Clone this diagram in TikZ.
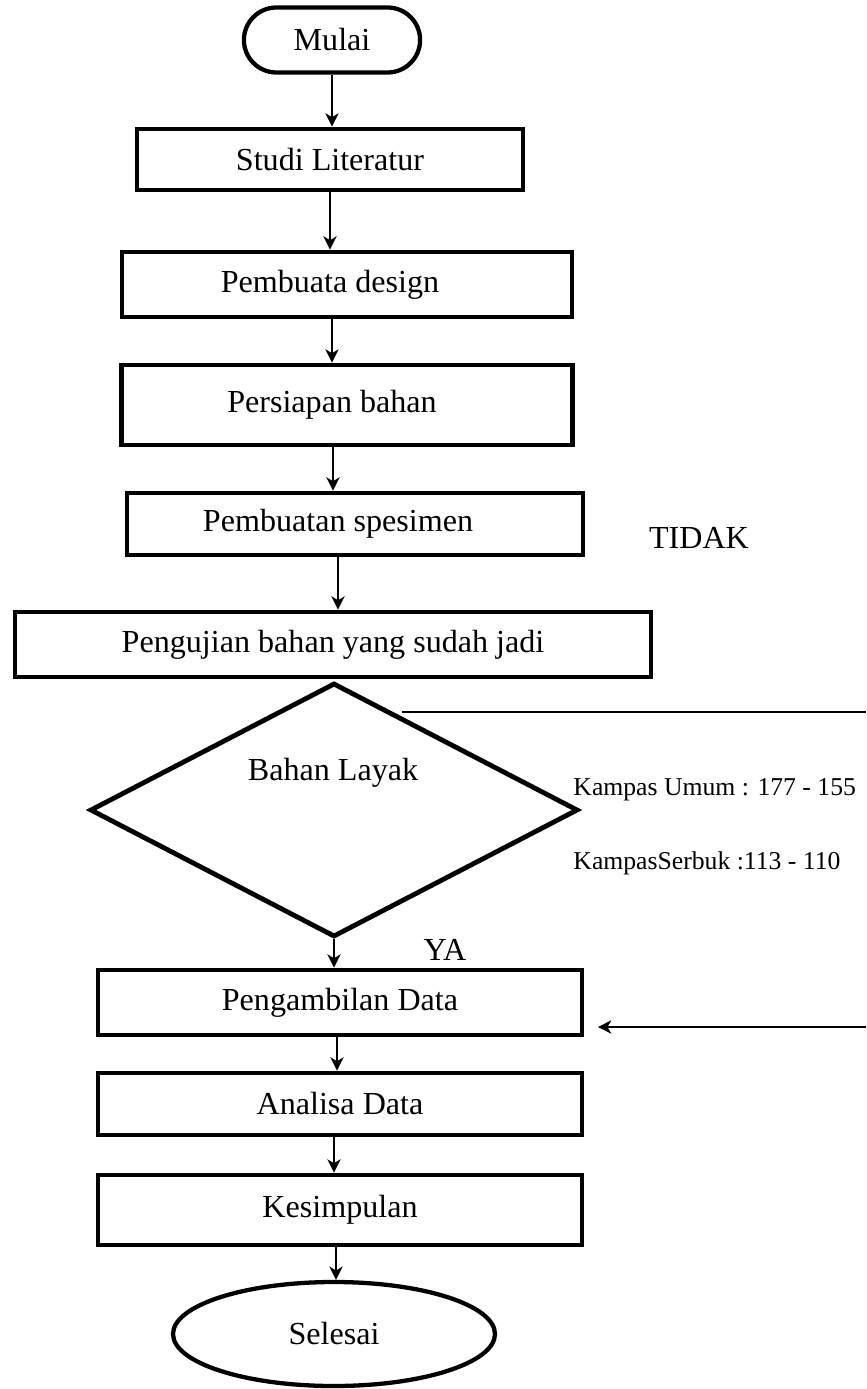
\documentclass[tikz,border=0pt]{standalone}
\usepackage{tikz}
\usepackage{graphicx, xcolor}
\usepackage{fontspec}
\setmainfont{Liberation Serif}
\usetikzlibrary{shapes.geometric, shapes.misc, arrows.meta}

% one unit = one pixel of the sketch
\newlength{\pxu}
\setlength{\pxu}{0.01314cm}

\begin{document}
\begin{tikzpicture}[x=0.01314cm, y=-0.01314cm,
        font=\fontsize{12}{14}\selectfont,
        box/.style={draw, line width=1.8pt, inner sep=0pt},
        arr/.style={-{Stealth[length=5pt,width=5pt,inset=1.5pt]}, line width=0.5pt},
        small/.style={font=\fontsize{9.6}{12}\selectfont, anchor=west}]

        \useasboundingbox (0,0) rectangle (866,1389);

        % start
            \node[draw, rounded rectangle, line width=1.6pt, minimum width=194\pxu, minimum height=65\pxu] (mulai) at (332,40) {Mulai};

        % steps
            \node[box, minimum width=386\pxu, minimum height=61\pxu] (studi) at (330,159.5) {Studi Literatur};
            \node[box, minimum width=450\pxu, minimum height=65\pxu, label={[xshift=-17\pxu]center:Pembuata design}] (desain) at (347,284.5) {};
            \node[box, minimum width=451\pxu, minimum height=80\pxu, label={[xshift=-15\pxu]center:Persiapan bahan}] (persiapan) at (347,405) {};
            \node[box, minimum width=456\pxu, minimum height=62\pxu, label={[xshift=-17\pxu]center:Pembuatan spesimen}] (spesimen) at (355,524) {};
            \node[box, minimum width=636\pxu, minimum height=65\pxu] (uji) at (333,644.5) {Pengujian bahan yang sudah jadi};

        % decision
            \node[draw, diamond, line width=1.8pt, inner sep=0pt, minimum width=488\pxu, minimum height=254\pxu] (layak) at (334,810) {};
            \node (layaktxt) at (333,773) {Bahan Layak};
            \node[small] (umum) at (564,790) {Kampas Umum : 177 - 155};
            \node[small] (serbuk) at (564,863) {KampasSerbuk :113 - 110};
            \node (tidak) at (699,538) {TIDAK};
            \node (ya) at (445,950) {YA};

        % rest of the steps
            \node[box, minimum width=484\pxu, minimum height=65\pxu] (ambil) at (340,1002.5) {Pengambilan Data};
            \node[box, minimum width=484\pxu, minimum height=62\pxu] (analisa) at (340,1104) {Analisa Data};
            \node[box, minimum width=484\pxu, minimum height=70\pxu] (simpul) at (340,1210) {Kesimpulan};

        % end
            \node[draw, ellipse, line width=1.6pt, minimum width=322\pxu, minimum height=104\pxu] (selesai) at (334,1334) {Selesai};

        % arrows
            \draw[arr] (mulai.south) -- (mulai.south |- studi.north);
            \draw[arr] (studi.south) -- (studi.south |- desain.north);
            \draw[arr] ([xshift=-15\pxu]desain.south) -- ([xshift=-15\pxu]desain.south |- persiapan.north);
            \draw[arr] ([xshift=-14\pxu]persiapan.south) -- ([xshift=-14\pxu]persiapan.south |- spesimen.north);
            \draw[arr] ([xshift=-17\pxu]spesimen.south) -- ([xshift=-17\pxu]spesimen.south |- uji.north);
            \draw[arr] (layak.south) -- (layak.south |- ambil.north);
            \draw[arr] ([xshift=-3\pxu]ambil.south) -- ([xshift=-3\pxu]ambil.south |- analisa.north);
            \draw[arr] ([xshift=-6\pxu]analisa.south) -- ([xshift=-6\pxu]analisa.south |- simpul.north);
            \draw[arr] ([xshift=-4\pxu]simpul.south) -- ([xshift=-4\pxu]simpul.south |- selesai.north);

        % TIDAK lines
            \coordinate (tA) at (402,712);
            \coordinate (tB) at (866,712);
            \coordinate (tC) at (866,1027);
            \coordinate (tD) at (598,1027);
            \draw[line width=0.5pt] (tA) -- (tB);
            \draw[arr] (tC) -- (tD);

\end{tikzpicture}
\end{document}
